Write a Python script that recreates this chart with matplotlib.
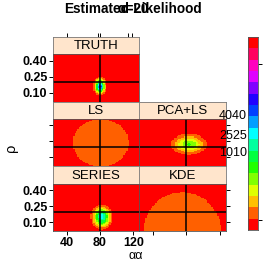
import numpy as np
import matplotlib
matplotlib.use("Agg")
import matplotlib.pyplot as plt
from matplotlib.colors import ListedColormap, BoundaryNorm, hsv_to_rgb

plt.rcParams['font.family'] = ['Liberation Sans', 'DejaVu Sans']

# panels (name, column, row) and the estimated likelihood bumps
panel_names = ["TRUTH", "LS", "PCA+LS", "SERIES", "KDE"]
panel_col = [0, 0, 1, 0, 1]
panel_row = [0, 1, 1, 2, 2]
peak_alpha = [80, 81, 83, 82, 75]
peak_rho = [0.16, 0.236, 0.22, 0.15, 0.0]
spread_alpha = [3.7, 30, 12, 6.2, 42]
spread_rho = [0.041, 0.20, 0.055, 0.057, 0.34]
peak_height = [0.64, 0.11, 0.30, 0.52, 0.11]

true_alpha = 80
true_rho = 0.20
alpha_lim = (23.5, 127.2)
rho_lim = (0.017, 0.464)
alpha_ticks = [40, 80, 120]
rho_ticks = [0.10, 0.25, 0.40]
rho_ticklabels = ["0.10", "0.25", "0.40"]
n_levels = 17

W, H = 266, 266
fig = plt.figure(figsize=(W / 100, H / 100), dpi=100)


def px_axes(x0, y0, x1, y1):
    return fig.add_axes([x0 / W, 1 - y1 / H, (x1 - x0) / W, (y1 - y0) / H])


hues = np.arange(n_levels) / (n_levels - 1)
colors = [hsv_to_rgb((h, 1, 1)) for h in hues]
cmap = ListedColormap(colors)
bounds = np.linspace(0, 1, n_levels + 1)
norm = BoundaryNorm(bounds, cmap.N)

col_x = [(53, 139.3), (139.3, 225.8)]
row_y = [(37, 54, 101.5), (101.5, 118.5, 166), (166, 183.5, 231)]

ag = np.linspace(alpha_lim[0], alpha_lim[1], 61)
rg = np.linspace(rho_lim[0], rho_lim[1], 46)
ac = (ag[:-1] + ag[1:]) / 2
rc = (rg[:-1] + rg[1:]) / 2
A, R = np.meshgrid(ac, rc)

for i, name in enumerate(panel_names):
    x0, x1 = col_x[panel_col[i]]
    s0, p0, p1 = row_y[panel_row[i]]
    # strip
    sax = px_axes(x0, s0, x1, p0)
    sax.set_facecolor('#ffe5cc')
    sax.set_xticks([])
    sax.set_yticks([])
    for sp in sax.spines.values():
        sp.set_color('#777777')
        sp.set_linewidth(0.6)
    sax.text(0.5, 0.45, name, ha='center', va='center', fontsize=9.5,
             transform=sax.transAxes)
    # panel
    ax = px_axes(x0, p0, x1, p1)
    Z = peak_height[i] * np.exp(-0.5 * (((A - peak_alpha[i]) / spread_alpha[i]) ** 2
                                        + ((R - peak_rho[i]) / spread_rho[i]) ** 2))
    ax.pcolormesh(ag, rg, Z, cmap=cmap, norm=norm, shading='flat')
    ax.axvline(true_alpha, color='black', lw=1.1)
    ax.axhline(true_rho, color='black', lw=1.1)
    ax.set_xlim(alpha_lim)
    ax.set_ylim(rho_lim)
    for sp in ax.spines.values():
        sp.set_color('#555555')
        sp.set_linewidth(0.6)
    ax.tick_params(length=3, width=0.7, labelsize=9, pad=1)
    ax.set_xticks(alpha_ticks)
    ax.set_yticks(rho_ticks)
    ax.set_xticklabels([])
    ax.set_yticklabels([])
    ax.tick_params(bottom=(panel_row[i] == 2), left=(panel_col[i] == 0),
                   right=(panel_col[i] == 1))
    if panel_col[i] == 0 and panel_row[i] != 1:
        ax.set_yticklabels(rho_ticklabels, fontweight='bold')
    if panel_col[i] == 0 and panel_row[i] == 2:
        ax.set_xticklabels([str(t) for t in alpha_ticks], fontweight='bold')
    if panel_row[i] == 0:
        # ticks above the top strip
        sax.set_xlim(alpha_lim)
        sax.set_xticks([40, 77, 80, 114, 119])
        sax.tick_params(top=True, bottom=False, labeltop=False,
                        labelbottom=False, length=3, width=0.7)

# colorbar
cax = px_axes(248, 37, 258, 230)
cax.pcolormesh([0, 1], bounds, np.array(bounds[:-1] + 0.01).reshape(-1, 1),
               cmap=cmap, norm=norm)
cax.set_xlim(0, 1)
cax.set_ylim(0, 1)
cax.set_xticks([])
cax.set_yticks([0.05, 0.86])
cax.yaxis.tick_right()
cax.tick_params(length=3, width=0.7, labelright=False)
for sp in cax.spines.values():
    sp.set_color('#555555')
    sp.set_linewidth(0.6)

# overlapping labels at the right of the middle row
for lab, y in zip(["4040", "2525", "1010"], [116, 136, 153]):
    fig.text(219 / W, 1 - y / H, lab, fontsize=9, va='center', ha='left')

fig.text(133 / W, 1 - 9 / H, "Estimated-Likelihood", fontsize=9.8,
         fontweight='bold', ha='center', va='center')
fig.text(133 / W, 1 - 9 / H, "α=20", fontsize=9.8,
         fontweight='bold', ha='center', va='center')
fig.text(11 / W, 1 - 148 / H, "ρ", fontsize=10.5, rotation=90,
         ha='center', va='center')
fig.text(136 / W, 1 - 256 / H, "αα", fontsize=9, ha='center', va='center')

fig.savefig("out.png", dpi=100)
